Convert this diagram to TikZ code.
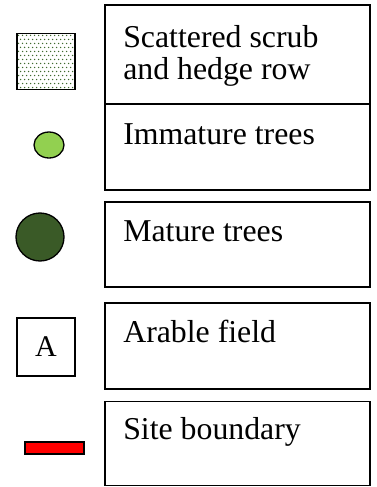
\documentclass[tikz,border=0pt]{standalone}
\usepackage{fontspec}
\setmainfont{Liberation Serif}
\usepackage{tikz}
\usetikzlibrary{shapes.geometric,calc}

\definecolor{youngleaf}{HTML}{92D050}
\definecolor{oldleaf}{HTML}{3A5A27}
\definecolor{scrubdot}{HTML}{3F6A2E}

\begin{document}
\begin{tikzpicture}[x=1pt,y=-1pt,
 keybox/.style={draw,line width=1.8pt,minimum width=265pt,inner sep=0pt},
 keytext/.style={anchor=base west,align=left,inner sep=0pt,font=\fontsize{31.8}{32}\selectfont},
 symbol/.style={draw,line width=1.6pt,inner sep=0pt}]
\useasboundingbox (0,0) rectangle (377,487);
% key boxes
\node[keybox,minimum height=99pt] (scrubbox) at (237.5,54.5) {};
\node[keybox,minimum height=86pt] (youngbox) at (237.5,147) {};
\node[keybox,minimum height=85pt] (oldbox) at (237.5,244.5) {};
\node[keybox,minimum height=86pt] (arablebox) at (237.5,346) {};
\node[keybox,minimum height=84pt] (sitebox) at (237.5,443.5) {};
% labels
\node[keytext] (scrubtext) at ($(scrubbox.north west)+(19,75)$) {Scattered scrub\\and hedge row};
\node[keytext] (youngtext) at ($(youngbox.north west)+(19,41)$) {Immature trees};
\node[keytext] (oldtext) at ($(oldbox.north west)+(19,40)$) {Mature trees};
\node[keytext] (arabletext) at ($(arablebox.north west)+(19,40)$) {Arable field};
\node[keytext] (sitetext) at ($(sitebox.north west)+(19,39)$) {Site boundary};
% symbols
\node[symbol,minimum width=58pt,minimum height=56pt,path picture={
  \foreach \row in {0,...,13}{
    \foreach \col in {0,...,14}{
      \fill[scrubdot] ($(path picture bounding box.north west)+({1.5+4*\col+2*mod(\row,2)},{2+4*\row})$) circle (0.75pt);
    }}}] (scrubsym) at (46,61.5) {};
\node[symbol,ellipse,line width=1.3pt,fill=youngleaf,minimum width=30pt,minimum height=26pt] (youngsym) at (49,145) {};
\node[symbol,circle,line width=1.3pt,fill=oldleaf,minimum size=48pt] (oldsym) at (40,237) {};
\node[symbol,minimum width=58pt,minimum height=58pt,font=\fontsize{30}{30}\selectfont] (arablesym) at (46,347) {A};
\node[symbol,line width=1.3pt,fill=red,minimum width=59pt,minimum height=12pt] (sitesym) at (54.5,448) {};
\end{tikzpicture}
\end{document}
